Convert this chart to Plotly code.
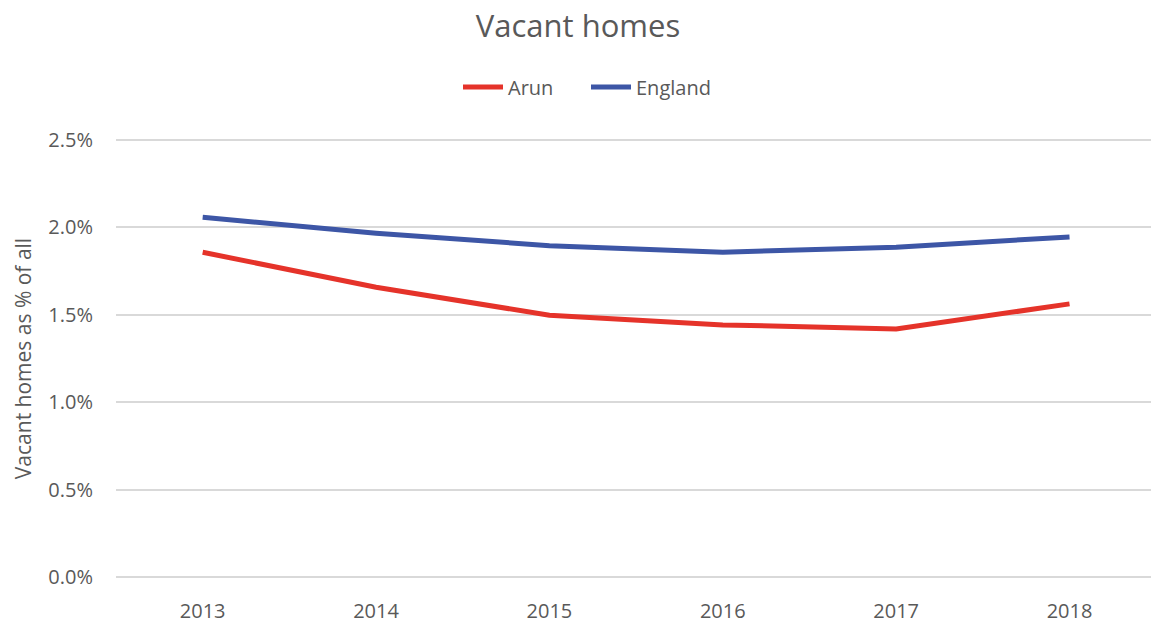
import plotly.graph_objects as go

years = ["2013", "2014", "2015", "2016", "2017", "2018"]
arun = [0.01857, 0.01657, 0.01497, 0.01442, 0.01419, 0.01562]
england = [0.02057, 0.01966, 0.01895, 0.01857, 0.01886, 0.01945]
y_ticks = [0, 0.005, 0.01, 0.015, 0.02, 0.025]
y_tick_labels = ["0.0%", "0.5%", "1.0%", "1.5%", "2.0%", "2.5%"]

FONT = "Open Sans"
GREY = "#595959"
W, H = 1151, 624

fig = go.Figure()
fig.add_trace(go.Scatter(x=years, y=arun, mode="lines", name="Arun",
                         line=dict(color="#E5332A", width=5)))
fig.add_trace(go.Scatter(x=years, y=england, mode="lines", name="England",
                         line=dict(color="#3D56A6", width=5)))

fig.update_layout(
    width=W, height=H,
    paper_bgcolor="white", plot_bgcolor="white",
    margin=dict(l=116, r=0, t=138, b=45, pad=0),
    font=dict(family=FONT, color=GREY, size=20),
    title=dict(text="Vacant homes", x=578 / W, xref="container",
               xanchor="center",
               y=1 - 26 / H, yref="container", yanchor="middle",
               font=dict(size=31, color=GREY, family=FONT)),
    legend=dict(orientation="h", x=586 / W, xref="container",
                xanchor="center",
                y=1 - 87 / H, yref="container", yanchor="middle",
                font=dict(size=20, color=GREY), itemwidth=40,
                entrywidth=73, traceorder="normal"),
    showlegend=True,
)
fig.update_xaxes(type="category", range=[-0.5, 5.47], showgrid=False,
                 showline=False, zeroline=False, ticks="", automargin=False,
                 tickfont=dict(size=20, color=GREY), ticklabelstandoff=18)
fig.update_yaxes(range=[-0.0001, 0.0251], tickvals=y_ticks,
                 ticktext=y_tick_labels, automargin=False,
                 showgrid=True, gridcolor="#D9D9D9", gridwidth=1.5,
                 zeroline=False, showline=False, ticks="",
                 tickfont=dict(size=20, color=GREY), ticklabelstandoff=22,
                 title=dict(text="Vacant homes as % of all", standoff=10,
                            font=dict(size=21, color=GREY)))

fig.write_html(
    "out.html",
    config={"displayModeBar": False},
    post_script="document.body.style.margin='0';"
                "document.body.style.overflow='hidden';",
)
